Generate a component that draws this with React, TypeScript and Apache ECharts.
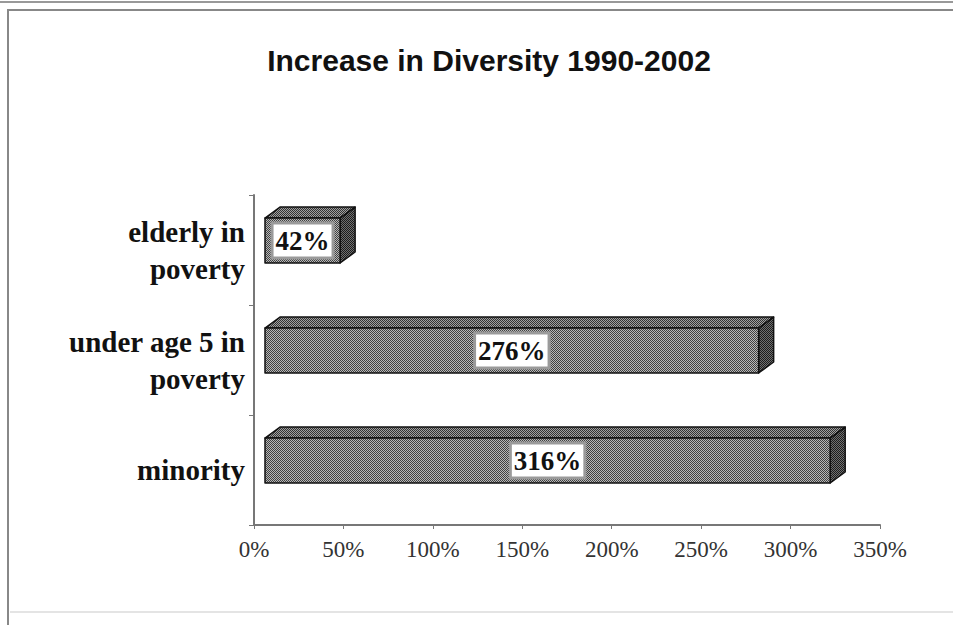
import React, { useEffect, useRef } from "react";
import * as echarts from "echarts";

const categories = ["minority", "under age 5 in\npoverty", "elderly in\npoverty"];
const values = [316, 276, 42];
const valueLabels = ["316%", "276%", "42%"];
const xTicks = { min: 0, max: 350, interval: 50 };
const title = "Increase in Diversity 1990-2002";

function makePattern(dark: string, light: string): any {
  const c = document.createElement("canvas");
  c.width = 4;
  c.height = 4;
  const ctx = c.getContext("2d")!;
  for (let x = 0; x < 4; x++) {
    for (let y = 0; y < 4; y++) {
      ctx.fillStyle = (x + y) % 2 === 0 ? dark : light;
      ctx.fillRect(x, y, 1, 1);
    }
  }
  return { image: c, repeat: "repeat" };
}

export default function App() {
  const ref = useRef<HTMLDivElement>(null);
  useEffect(() => {
    if (!ref.current) return;
    const chart = echarts.init(ref.current, null, { renderer: "svg" });
    const frontFill = makePattern("#404040", "#b8b8b8");
    const topFill = makePattern("#333333", "#a0a0a0");
    const sideFill = makePattern("#1c1c1c", "#707070");
    const serif = '"Liberation Serif", "DejaVu Serif", serif';

    const option: any = {
      animation: false,
      backgroundColor: "#ffffff",
      grid: { left: 254, right: 73, top: 195, bottom: 100 },
      xAxis: {
        type: "value",
        min: xTicks.min,
        max: xTicks.max,
        interval: xTicks.interval,
        axisLine: { show: true, lineStyle: { color: "#777", width: 2 } },
        axisTick: { show: true, length: 4, lineStyle: { color: "#777" } },
        splitLine: { show: false },
        axisLabel: {
          formatter: "{value}%",
          fontFamily: serif,
          fontSize: 23,
          color: "#333",
          margin: 13,
        },
      },
      yAxis: {
        type: "category",
        data: categories,
        axisLine: { show: true, lineStyle: { color: "#777", width: 2 } },
        axisTick: { show: true, length: 5, lineStyle: { color: "#777" } },
        axisLabel: {
          fontFamily: serif,
          fontWeight: "bold",
          fontSize: 29,
          lineHeight: 37,
          color: "#111",
          margin: 9,
          align: "right",
        },
      },
      graphic: [
        {
          type: "line",
          shape: { x1: 0, y1: 2, x2: 953, y2: 2 },
          style: { stroke: "#999", lineWidth: 2 },
        },
        {
          type: "polyline",
          shape: { points: [[8, 625], [8, 10], [953, 10]] },
          style: { stroke: "#888", lineWidth: 2, fill: null },
        },
        {
          type: "line",
          shape: { x1: 10, y1: 612, x2: 953, y2: 612 },
          style: { stroke: "#e4e4e4", lineWidth: 2 },
        },
        {
          type: "text",
          x: 489,
          y: 60,
          style: {
            text: title,
            align: "center",
            verticalAlign: "middle",
            fontFamily: '"Liberation Sans", Arial, sans-serif',
            fontWeight: "bold",
            fontSize: 30,
            fill: "#111",
          },
        },
      ],
      series: [
        {
          type: "custom",
          encode: { x: 1, y: 0 },
          data: values.map((v, i) => [i, v]),
          renderItem: (params: any, api: any) => {
            const cat = api.value(0);
            const v = api.value(1);
            const p0 = api.coord([0, cat]);
            const p1 = api.coord([v, cat]);
            const band = api.size([0, 1])[1];
            const off = 11;
            const dx = 15;
            const dy = 11;
            const x0 = p0[0] + off;
            const x1 = p1[0] + off;
            const cy = p0[1];
            const top = cy - band * 0.29;
            const bot = cy + band * 0.118;
            const edge = { stroke: "#111", lineWidth: 1.5, lineJoin: "round" };
            return {
              type: "group",
              children: [
                {
                  type: "polygon",
                  shape: { points: [[x0, top], [x0 + dx, top - dy], [x1 + dx, top - dy], [x1, top]] },
                  style: { fill: topFill, ...edge },
                },
                {
                  type: "polygon",
                  shape: { points: [[x1, top], [x1 + dx, top - dy], [x1 + dx, bot - dy], [x1, bot]] },
                  style: { fill: sideFill, ...edge },
                },
                {
                  type: "rect",
                  shape: { x: x0, y: top, width: x1 - x0, height: bot - top },
                  style: { fill: frontFill, ...edge },
                },
                {
                  type: "text",
                  x: (x0 + x1) / 2,
                  y: (top + bot) / 2,
                  style: {
                    text: valueLabels[params.dataIndex],
                    align: "center",
                    verticalAlign: "middle",
                    fontFamily: serif,
                    fontWeight: "bold",
                    fontSize: 27,
                    fill: "#111",
                    backgroundColor: "#ffffff",
                    borderColor: "#9a9a9a",
                    borderWidth: 3,
                    padding: [3, 2, 2, 2],
                  },
                },
              ],
            };
          },
        },
      ],
    };
    chart.setOption(option);
    return () => chart.dispose();
  }, []);
  return (
    <div
      ref={ref}
      style={{ position: "fixed", left: 0, top: 0, width: 953, height: 625 }}
    />
  );
}
